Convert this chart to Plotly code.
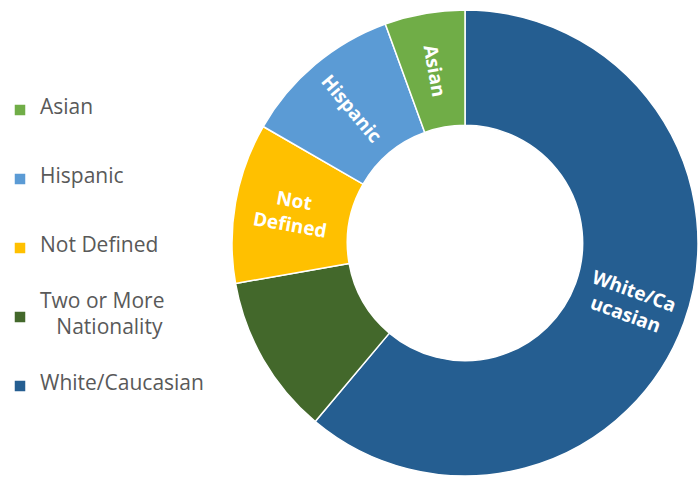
import math
import plotly.graph_objects as go

# Data (order as drawn clockwise from 12 o'clock)
labels = ["White/Caucasian", "Two or More Nationality", "Not Defined", "Hispanic", "Asian"]
values = [11, 2, 2, 2, 1]
slice_text = ["White/Ca<br>ucasian", "", "Not<br>Defined", "Hispanic", "Asian"]
colors = ["#255E91", "#43682B", "#FFC000", "#5B9BD5", "#70AD47"]

legend_text = {
    "White/Caucasian": "White/Caucasian",
    "Two or More Nationality": "Two or More|&nbsp;&nbsp;&nbsp;Nationality",
    "Not Defined": "Not Defined",
    "Hispanic": "Hispanic",
    "Asian": "Asian",
}

W, H = 698, 480
HOLE = 0.505
DOM_X = [232 / W, 1.0]
DOM_Y = [2 / H, 472 / H]


def legend_label(lab):
    parts = legend_text[lab].split("|")
    sp = ["<span style='font-size:21px'>%s</span>" % p for p in parts]
    if len(sp) == 1:
        return "<br><br>" + sp[0] + "<br><br> "
    return "<br>" + sp[0] + "<br><br>" + sp[1] + "<br> "


disp_labels = [legend_label(l) for l in labels]

fig = go.Figure(go.Pie(
    labels=disp_labels,
    values=values,
    textinfo="none",
    marker=dict(colors=colors, line=dict(color="white", width=1.5)),
    hole=HOLE,
    sort=False,
    direction="clockwise",
    rotation=0,
    domain=dict(x=DOM_X, y=DOM_Y),
    hoverinfo="skip",
))

# Radial slice labels placed from the data's angles (pie geometry from domain)
dw = (DOM_X[1] - DOM_X[0]) * W
dh = (DOM_Y[1] - DOM_Y[0]) * H
cx = (DOM_X[0] + DOM_X[1]) / 2 * W
cy = (1 - (DOM_Y[0] + DOM_Y[1]) / 2) * H
r = min(dw, dh) / 2
rmid = r * (1 + HOLE) / 2
total = sum(values)
cum = 0.0
for v, t in zip(values, slice_text):
    a0 = cum / total * 360
    cum += v
    a1 = cum / total * 360
    if not t:
        continue
    th = math.radians((a0 + a1) / 2)
    px = cx + rmid * math.sin(th)
    py = cy - rmid * math.cos(th)
    ang = math.degrees(math.atan2(-math.cos(th), math.sin(th)))
    if ang > 90:
        ang -= 180
    elif ang < -90:
        ang += 180
    fig.add_annotation(
        x=px / W, y=1 - py / H, xref="paper", yref="paper",
        text=t, showarrow=False, textangle=ang,
        xanchor="center", yanchor="middle",
        font=dict(family="Open Sans", size=19, color="white", weight="bold"),
    )

fig.update_layout(
    width=W, height=H,
    margin=dict(l=0, r=0, t=0, b=0),
    paper_bgcolor="white",
    plot_bgcolor="white",
    legend=dict(
        x=0, xanchor="left",
        y=(480 - 248) / 480, yanchor="middle",
        traceorder="reversed",
        font=dict(family="Open Sans", size=10.15, color="#595959"),
        bgcolor="rgba(0,0,0,0)",
    ),
    showlegend=True,
)

fig.write_html("out.html")
